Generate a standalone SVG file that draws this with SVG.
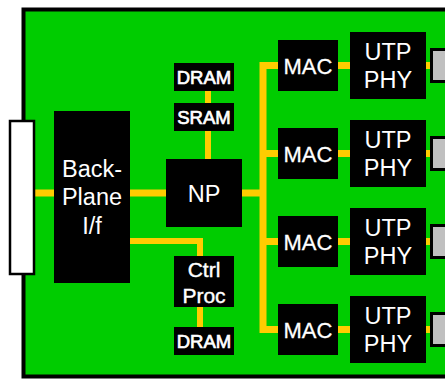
<svg xmlns="http://www.w3.org/2000/svg" width="445" height="380" viewBox="0 0 445 380">
<style>
.box{fill:#000}
.t{fill:#fff;font-family:"Liberation Sans",Arial,sans-serif;text-anchor:middle}
.big{font-size:23.5px}
.mac{font-size:22px;stroke:#fff;stroke-width:0.3}
.mem{font-size:18.5px;stroke:#fff;stroke-width:0.7}
.ctrl{font-size:21px;stroke:#fff;stroke-width:0.4}
.wire{fill:none;stroke:#FFCC00;stroke-width:6;stroke-linejoin:miter;stroke-linecap:butt}
.bus{stroke-width:7}
.port{fill:#C0C0C0;stroke:#000;stroke-width:3}
</style>
<rect width="445" height="380" fill="#fff"/>
<g id="board">
<rect x="23.5" y="9.5" width="440" height="367" fill="#00CC00" stroke="#000" stroke-width="4"/>
</g>
<g id="connectors">
<path class="wire bus" d="M35,193 H54"/>
<path class="wire bus" d="M130,193 H166"/>
<path class="wire bus" d="M242,193 H263"/>
<path class="wire bus" d="M278,65.5 H263 V329.5 H278"/>
<path class="wire bus" d="M263,153.5 H278"/>
<path class="wire bus" d="M263,241.5 H278"/>
<path class="wire" d="M208,91 V159"/>
<path class="wire" d="M130,241 H200 V256"/>
<path class="wire" d="M200,307 V327"/>
<path class="wire bus" d="M338,65.5 H350 M426,65.5 H432"/>
<path class="wire bus" d="M338,153.5 H350 M426,153.5 H432"/>
<path class="wire bus" d="M338,241.5 H350 M426,241.5 H432"/>
<path class="wire bus" d="M338,329.5 H350 M426,329.5 H432"/>
</g>
<g id="edge-connector">
<rect x="10" y="121" width="24" height="153" fill="#fff" stroke="#000" stroke-width="2.5"/>
</g>
<g id="backplane">
<rect class="box" x="54" y="111" width="76" height="172"/>
<text class="t big" x="92" y="177">Back-</text>
<text class="t big" x="92" y="205">Plane</text>
<text class="t big" x="92" y="234">I/f</text>
</g>
<g id="np">
<rect class="box" x="166" y="159" width="76" height="68"/>
<text class="t big" x="204" y="201.5">NP</text>
</g>
<g id="dram1">
<rect class="box" x="174" y="63" width="60" height="28"/>
<text class="t mem" x="204" y="84">DRAM</text>
</g>
<g id="sram">
<rect class="box" x="174" y="103" width="60" height="28"/>
<text class="t mem" x="204" y="124">SRAM</text>
</g>
<g id="ctrlproc">
<rect class="box" x="174" y="256" width="60" height="51"/>
<text class="t ctrl" x="204" y="277">Ctrl</text>
<text class="t ctrl" x="204" y="303">Proc</text>
</g>
<g id="dram2">
<rect class="box" x="174" y="327" width="60" height="28"/>
<text class="t mem" x="204" y="348">DRAM</text>
</g>
<g id="mac1"><rect class="box" x="278" y="40" width="60" height="51"/><text class="t mac" x="308" y="73.5">MAC</text></g>
<g id="mac2"><rect class="box" x="278" y="128" width="60" height="51"/><text class="t mac" x="308" y="161.5">MAC</text></g>
<g id="mac3"><rect class="box" x="278" y="216" width="60" height="51"/><text class="t mac" x="308" y="249.5">MAC</text></g>
<g id="mac4"><rect class="box" x="278" y="304" width="60" height="51"/><text class="t mac" x="308" y="337.5">MAC</text></g>
<g id="phy1"><rect class="box" x="350" y="32" width="76" height="67"/><text class="t big" x="388" y="60">UTP</text><text class="t big" x="388" y="88">PHY</text></g>
<g id="phy2"><rect class="box" x="350" y="120" width="76" height="67"/><text class="t big" x="388" y="148">UTP</text><text class="t big" x="388" y="176">PHY</text></g>
<g id="phy3"><rect class="box" x="350" y="208" width="76" height="67"/><text class="t big" x="388" y="236">UTP</text><text class="t big" x="388" y="264">PHY</text></g>
<g id="phy4"><rect class="box" x="350" y="296" width="76" height="67"/><text class="t big" x="388" y="324">UTP</text><text class="t big" x="388" y="352">PHY</text></g>
<g id="port1"><rect class="port" x="431.5" y="49.5" width="20" height="32"/></g>
<g id="port2"><rect class="port" x="431.5" y="137.5" width="20" height="32"/></g>
<g id="port3"><rect class="port" x="431.5" y="225.5" width="20" height="32"/></g>
<g id="port4"><rect class="port" x="431.5" y="313.5" width="20" height="32"/></g>
</svg>
